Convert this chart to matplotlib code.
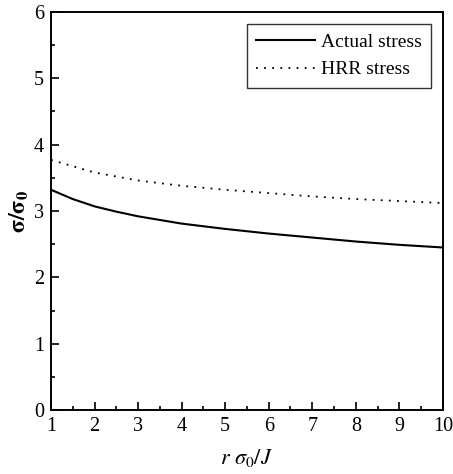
import numpy as np
import matplotlib
matplotlib.use('Agg')
import matplotlib.pyplot as plt
from matplotlib.ticker import MultipleLocator

plt.rcParams['font.family'] = ['Liberation Serif', 'DejaVu Serif']
plt.rcParams['mathtext.fontset'] = 'stix'

r_norm = [1, 1.5, 2, 2.5, 3, 4, 5, 6, 7, 8, 9, 10]
actual = [3.32, 3.18, 3.07, 2.99, 2.92, 2.81, 2.73, 2.66, 2.60, 2.54, 2.49, 2.45]
hrr_x = [1, 2, 3, 4, 5, 6, 7, 8, 9, 10]
hrr = [3.77, 3.58, 3.46, 3.38, 3.32, 3.27, 3.22, 3.18, 3.15, 3.12]

fig = plt.figure(figsize=(4.53, 4.74), dpi=100)
ax = fig.add_axes([0.1126, 0.135, 0.865, 0.8397])

ax.plot(r_norm, actual, 'k-', lw=1.5, label='Actual stress')
ax.plot(hrr_x, hrr, color='k', ls=(0, (1, 3.5)), lw=1.3, label='HRR stress')

ax.set_xlim(1, 10)
ax.set_ylim(0, 6)
ax.xaxis.set_major_locator(MultipleLocator(1))
ax.xaxis.set_minor_locator(MultipleLocator(0.5))
ax.yaxis.set_major_locator(MultipleLocator(1))
ax.yaxis.set_minor_locator(MultipleLocator(0.5))
ax.tick_params(which='both', direction='in', labelsize=14.5, top=False, right=False)
ax.tick_params(which='major', length=6, width=1.2, pad=5)
ax.tick_params(which='minor', length=3, width=1.2)
for s in ax.spines.values():
    s.set_linewidth(1.4)

ax.set_xlabel(r'$r\ \sigma_0/J$', fontsize=16, labelpad=8)
ax.set_ylabel(r'$\mathbf{\sigma/\sigma_0}$', fontsize=17, labelpad=2)

leg = ax.legend(loc='upper right', fontsize=14, frameon=True, fancybox=False,
                edgecolor='black', handlelength=3.0, borderaxespad=0.6,
                handletextpad=0.3, labelspacing=0.5, borderpad=0.5)
leg.get_frame().set_linewidth(1.0)

fig.savefig('out.png', dpi=100)
